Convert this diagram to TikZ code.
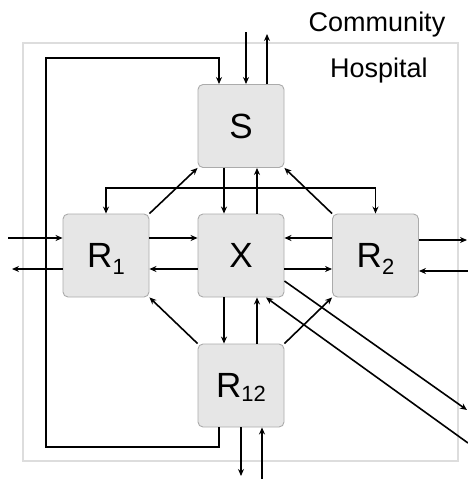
\documentclass[tikz,border=0pt]{standalone}
\usepackage{fontspec}
\setmainfont{Liberation Sans}
\usetikzlibrary{arrows.meta,calc}
\definecolor{boxfill}{HTML}{E6E6E6}
\definecolor{boxline}{HTML}{ABABAB}
\definecolor{hospline}{HTML}{DDDDDD}
\newcommand{\Rsub}[2]{R\raisebox{-#2}[0pt][0pt]{\fontsize{22}{22}\selectfont #1}}
\begin{document}
\begin{tikzpicture}[x=1pt,y=-1pt,
  state/.style={draw=boxline, fill=boxfill, line width=0.9pt, rounded corners=5pt,
    minimum width=86pt, minimum height=83pt, inner sep=0pt,
    font=\fontsize{35}{35}\selectfont},
  arr/.style={-{Stealth[length=7pt,width=6pt]}, line width=1.6pt},
  birr/.style={{Stealth[length=7pt,width=6pt]}-{Stealth[length=7pt,width=6pt]}, line width=1.6pt},
  lbl/.style={font=\fontsize{27}{27}\selectfont, inner sep=0pt, anchor=base}]
\useasboundingbox (0,0) rectangle (468,479);
% hospital boundary
\draw[hospline, line width=1.5pt] (23,43) rectangle (458,461);
\node[lbl] (comm) at (377,31) {Community};
\node[lbl, anchor=base west] (hosp) at (330,77) {Hospital};
% nodes
\node[state] (S) at (241,126) {S};
\node[state] (X) at (241,255.5) {X};
\node[state] (R1) at (106,255.5) {\Rsub{1}{6.5pt}};
\node[state] (R2) at (375.5,255.5) {\Rsub{2}{6.5pt}};
\node[state] (R12) at (241,385.5) {\Rsub{12}{3.5pt}};
% free ends
\coordinate (cin) at (246,32);
\coordinate (cout) at (267,34);
\coordinate (lpA) at (46,447);
\coordinate (lpB) at (46,58);
\coordinate (barL) at (106,188);
\coordinate (lin) at (8,238);
\coordinate (lout) at (12,269);
\coordinate (rout) at (467,240);
\coordinate (rin) at (468,271);
\coordinate (dout) at (467,410);
\coordinate (din) at (468,443);
\coordinate (bout) at (241,476);
\coordinate (bin) at (262,480);
% community <-> S
\draw[arr] (cin) -- (cin |- S.north);
\draw[arr] (cout |- S.north) -- (cout);
% loop R12 -> S
\draw[arr] ($(R12.south)+(-22,0)$) |- (lpA) -- (lpB) -| ($(S.north)+(-22,0)$);
% S <-> X
\draw[arr] ($(S.south)+(-17,0)$) -- ($(X.north)+(-17,0)$);
\draw[arr] ($(X.north)+(16,0)$) -- ($(S.south)+(16,0)$);
% diagonals to S
\draw[arr] (R1.north east) -- (S.south west);
\draw[arr] (R2.north west) -- (S.south east);
% bar R1 <-> R2
\draw[birr] (R1.north) -- (barL) -| (R2.north);
% left side
\draw[arr] (lin) -- (lin -| R1.west);
\draw[arr] ($(R1.west)+(0,13.5)$) -- (lout);
\draw[arr] ($(R1.east)+(0,-17.5)$) -- ($(X.west)+(0,-17.5)$);
\draw[arr] ($(X.west)+(0,13.5)$) -- ($(R1.east)+(0,13.5)$);
% right side
\draw[arr] ($(R2.west)+(0,-17.5)$) -- ($(X.east)+(0,-17.5)$);
\draw[arr] ($(X.east)+(0,13.5)$) -- ($(R2.west)+(0,13.5)$);
\draw[arr] ($(R2.east)+(0,-15.5)$) -- (rout);
\draw[arr] (rin) -- ($(R2.east)+(0,15.5)$);
% X <-> R12
\draw[arr] ($(X.south)+(-17,0)$) -- ($(R12.north)+(-17,0)$);
\draw[arr] ($(R12.north)+(16,0)$) -- ($(X.south)+(16,0)$);
% diagonals from R12
\draw[arr] (R12.north west) -- (R1.south east);
\draw[arr] (R12.north east) -- (R2.south west);
% long diagonals
\draw[arr] ($(X.east)+(0,25.5)$) -- (dout);
\draw[arr] (din) -- ($(X.south)+(25,0)$);
% R12 <-> community
\draw[arr] (R12.south) -- (bout);
\draw[arr] (bin) -- (bin |- R12.south);
\end{tikzpicture}
\end{document}
